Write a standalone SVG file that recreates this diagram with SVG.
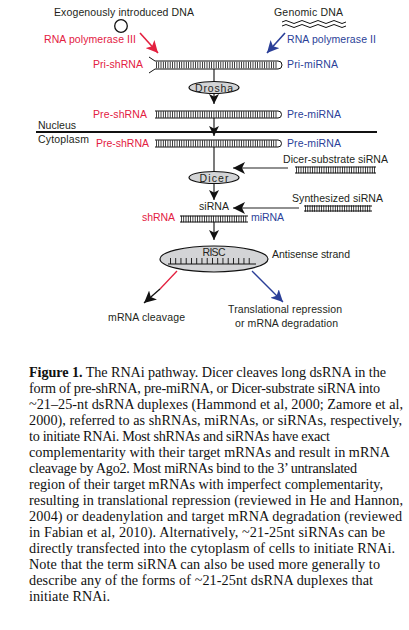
<svg xmlns="http://www.w3.org/2000/svg" width="409" height="630" viewBox="0 0 409 630">
<style>
text{font-family:"Liberation Sans",Arial,sans-serif;font-size:10.5px;fill:#231f20}
.red{fill:#e3203f}
.blue{fill:#2b3f98}
.cap{font-family:"Liberation Serif","Times New Roman",serif;font-size:14.2px;fill:#111}
.rail{stroke:#111;stroke-width:1;fill:none}
.tick{stroke:#111;stroke-width:6.4;stroke-dasharray:0.8 1.5;fill:none}
.enz{fill:#d3d4d6;stroke:#111;stroke-width:1.2}
.ln{stroke:#222;stroke-width:1.2;fill:none}
</style>
<defs>
<marker id="ab" markerUnits="userSpaceOnUse" markerWidth="12" markerHeight="10" refX="10" refY="5" orient="auto"><path d="M0,0 L10,5 L0,10 L2.5,5 z" fill="#111"/></marker>
<marker id="ar" markerUnits="userSpaceOnUse" markerWidth="14" markerHeight="12" refX="12" refY="6" orient="auto"><path d="M0,0 L12,6 L0,12 L3,6 z" fill="#e3203f"/></marker>
<marker id="au" markerUnits="userSpaceOnUse" markerWidth="14" markerHeight="12" refX="12" refY="6" orient="auto"><path d="M0,0 L12,6 L0,12 L3,6 z" fill="#2b3f98"/></marker>
<marker id="ak" markerUnits="userSpaceOnUse" markerWidth="14" markerHeight="12" refX="12" refY="6" orient="auto"><path d="M0,0 L12,6 L0,12 L3,6 z" fill="#111"/></marker>
</defs>

<g id="connectors">
<line x1="140" y1="33" x2="158" y2="53" stroke="#e3203f" stroke-width="1.6" marker-end="url(#ar)"/>
<line x1="285" y1="33" x2="267" y2="53" stroke="#2b3f98" stroke-width="1.6" marker-end="url(#au)"/>
<line class="ln" x1="214" y1="69" x2="214" y2="84"/>
<line class="ln" x1="214" y1="90" x2="214" y2="104" marker-end="url(#ab)"/>
<line class="ln" x1="214" y1="118" x2="214" y2="136" marker-end="url(#ab)"/>
<line class="ln" x1="214" y1="147" x2="214" y2="175"/>
<line class="ln" x1="214" y1="180" x2="214" y2="200" marker-end="url(#ab)"/>
<line class="ln" x1="288" y1="168" x2="233" y2="168" stroke-width="1.4" marker-end="url(#ak)"/>
<line class="ln" x1="299" y1="208" x2="233" y2="208" stroke-width="1.4" marker-end="url(#ak)"/>
<line class="ln" x1="214" y1="222" x2="214" y2="240" marker-end="url(#ab)"/>
<line x1="177" y1="271" x2="160" y2="289" stroke="#e3203f" stroke-width="1.3"/>
<line x1="160" y1="289" x2="144" y2="303" stroke="#111" stroke-width="1.3" marker-end="url(#ak)"/>
<line x1="252" y1="271" x2="283" y2="302" stroke="#2b3f98" stroke-width="1.3" marker-end="url(#au)"/>
</g>

<g id="sources">
<text x="54" y="16" textLength="140">Exogenously introduced DNA</text>
<circle cx="121" cy="26" r="6.3" fill="none" stroke="#111" stroke-width="1.3"/>
<text x="274" y="16" textLength="69">Genomic DNA</text>
<path d="M282,22 q4,-3 8,0 t8,0 t8,0 t8,0 t8,0 t8,0 t8,0 t8,0" class="rail" stroke-width="1.3"/>
<path d="M282,26 q4,-3 8,0 t8,0 t8,0 t8,0 t8,0 t8,0 t8,0 t8,0" class="rail" stroke-width="1.3"/>
<text class="red" x="44" y="43" textLength="92">RNA polymerase III</text>
<text class="blue" x="287" y="43" textLength="89">RNA polymerase II</text>
</g>

<g id="pri-rna">
<text class="red" x="93" y="68" textLength="50">Pri-shRNA</text>
<text class="blue" x="287" y="68" textLength="51">Pri-miRNA</text>
<path class="rail" d="M149,57 L155,61 L278,61 A4,4 0 0 1 278,69 L155,69 L149,73"/>
<line class="tick" x1="156" y1="65" x2="277" y2="65"/>
</g>

<g id="drosha">
<ellipse class="enz" cx="214" cy="87.5" rx="25" ry="6"/>
<text x="214" y="91.5" text-anchor="middle" font-size="11" textLength="38">Drosha</text>
</g>

<g id="pre-rna-nucleus">
<text class="red" x="93" y="118" textLength="54">Pre-shRNA</text>
<text class="blue" x="287" y="118" textLength="54">Pre-miRNA</text>
<path class="rail" d="M155,111 L278,111 A3.5,3.5 0 0 1 278,118 L155,118"/>
<line class="tick" x1="156" y1="114.5" x2="277" y2="114.5"/>
</g>

<g id="membrane">
<line x1="36" y1="132" x2="377" y2="132" stroke="#111" stroke-width="2"/>
<text x="38" y="129" textLength="38">Nucleus</text>
<text x="38" y="143" textLength="51">Cytoplasm</text>
</g>

<g id="pre-rna-cytoplasm">
<text class="red" x="96" y="147" textLength="53">Pre-shRNA</text>
<text class="blue" x="287" y="147" textLength="54">Pre-miRNA</text>
<path class="rail" d="M155,140 L278,140 A3.5,3.5 0 0 1 278,147 L155,147"/>
<line class="tick" x1="156" y1="143.5" x2="277" y2="143.5"/>
</g>

<g id="dicer-substrate">
<text x="283" y="163" textLength="105">Dicer-substrate siRNA</text>
<path class="rail" d="M295,167 L376,167 M295,173 L376,173"/>
<line class="tick" x1="296" y1="170" x2="375" y2="170" stroke-width="5.4"/>
</g>

<g id="dicer">
<ellipse class="enz" cx="214" cy="177.5" rx="25" ry="6"/>
<text x="214" y="182" text-anchor="middle" font-size="11" textLength="29">Dicer</text>
</g>

<g id="synthesized">
<text x="292" y="202" textLength="91">Synthesized siRNA</text>
<path class="rail" d="M304,206 L372,206 M304,211 L372,211"/>
<line class="tick" x1="305" y1="208.5" x2="371" y2="208.5" stroke-width="4.4"/>
</g>

<g id="sirna">
<text x="214" y="210" text-anchor="middle" textLength="30">siRNA</text>
<text class="red" x="142" y="221" textLength="33">shRNA</text>
<text class="blue" x="251" y="221" textLength="33">miRNA</text>
<path class="rail" d="M180,216 L248,216 M180,222 L248,222"/>
<line class="tick" x1="181" y1="219" x2="247" y2="219" stroke-width="5.4"/>
</g>

<g id="risc">
<ellipse class="enz" cx="214" cy="259" rx="54" ry="13"/>
<text x="214" y="256" text-anchor="middle" textLength="23">RISC</text>
<line x1="168" y1="264" x2="256" y2="264" stroke="#111" stroke-width="1"/>
<line x1="170" y1="261" x2="254" y2="261" stroke="#111" stroke-width="6" stroke-dasharray="0.9 4.35"/>
<text x="272" y="258" textLength="78">Antisense strand</text>
</g>

<g id="outcomes">
<text x="108" y="321" textLength="77">mRNA cleavage</text>
<text x="228" y="313" textLength="114">Translational repression</text>
<text x="235" y="327" textLength="103">or mRNA degradation</text>
</g>

<g id="caption">
<text class="cap" x="29" y="377" textLength="357"><tspan font-weight="bold">Figure 1.</tspan> The RNAi pathway. Dicer cleaves long dsRNA in the</text>
<text class="cap" x="29" y="393" textLength="351">form of pre-shRNA, pre-miRNA, or Dicer-substrate siRNA into</text>
<text class="cap" x="29" y="409" textLength="374">~21–25-nt dsRNA duplexes (Hammond et al, 2000; Zamore et al,</text>
<text class="cap" x="29" y="425" textLength="373">2000), referred to as shRNAs, miRNAs, or siRNAs, respectively,</text>
<text class="cap" x="29" y="441" textLength="301">to initiate RNAi. Most shRNAs and siRNAs have exact</text>
<text class="cap" x="29" y="457" textLength="361">complementarity with their target mRNAs and result in mRNA</text>
<text class="cap" x="29" y="473" textLength="328">cleavage by Ago2. Most miRNAs bind to the 3’ untranslated</text>
<text class="cap" x="29" y="489" textLength="354">region of their target mRNAs with imperfect complementarity,</text>
<text class="cap" x="29" y="505" textLength="374">resulting in translational repression (reviewed in He and Hannon,</text>
<text class="cap" x="29" y="521" textLength="373">2004) or deadenylation and target mRNA degradation (reviewed</text>
<text class="cap" x="29" y="537" textLength="356">in Fabian et al, 2010). Alternatively, ~21-25nt siRNAs can be</text>
<text class="cap" x="29" y="553" textLength="366">directly transfected into the cytoplasm of cells to initiate RNAi.</text>
<text class="cap" x="29" y="569" textLength="351">Note that the term siRNA can also be used more generally to</text>
<text class="cap" x="29" y="585" textLength="344">describe any of the forms of ~21-25nt dsRNA duplexes that</text>
<text class="cap" x="29" y="601" textLength="81">initiate RNAi.</text>
</g>
</svg>
